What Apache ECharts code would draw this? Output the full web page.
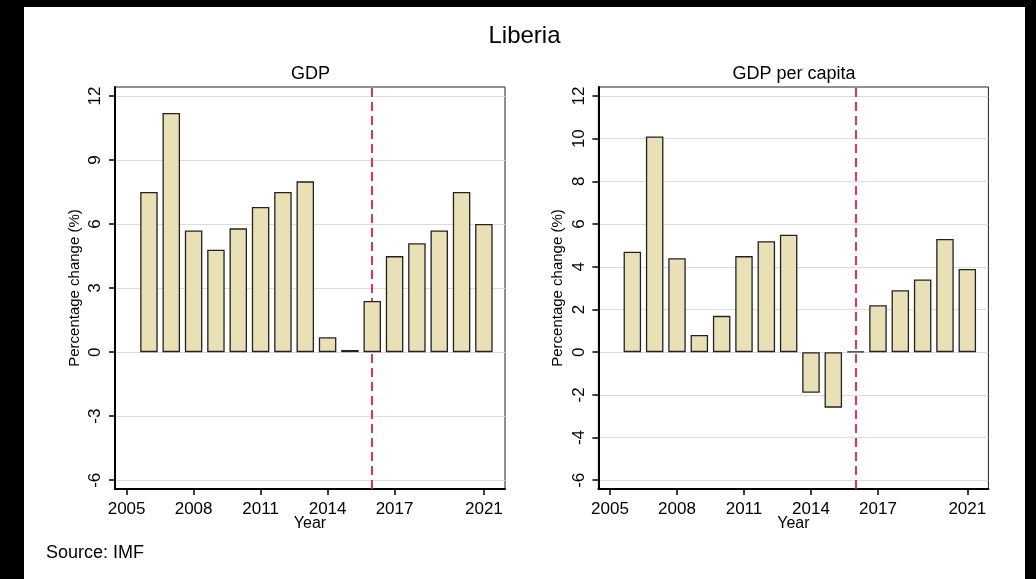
<!DOCTYPE html>
<html>
<head>
<meta charset="utf-8">
<script src="https://cdn.jsdelivr.net/npm/echarts@6/dist/echarts.min.js"></script>
<style>
html,body{margin:0;padding:0;background:#000;width:1036px;height:579px;overflow:hidden;}
#chart{position:absolute;left:24px;top:7px;width:1001px;height:572px;background:#fff;}
</style>
</head>
<body>
<div id="chart"></div>
<script>
// ---- data ----
const years = [2006,2007,2008,2009,2010,2011,2012,2013,2014,2015,2016,2017,2018,2019,2020,2021];
const gdpGrowth = [7.5,11.2,5.7,4.8,5.8,6.8,7.5,8.0,0.7,0.1,2.4,4.5,5.1,5.7,7.5,6.0];
const gdpPcGrowth = [4.7,10.1,4.4,0.8,1.7,4.5,5.2,5.5,-1.9,-2.6,0.03,2.2,2.9,3.4,5.3,3.9];
const xTickYears = [2005,2008,2011,2014,2017,2021];
const gdpYTicks = [-6,-3,0,3,6,9,12];
const gdpPcYTicks = [-6,-4,-2,0,2,4,6,8,10,12];
const projectionStartYear = 2016;
const mainTitle = 'Liberia';
const panelTitles = ['GDP','GDP per capita'];
const sourceText = 'Source: IMF';

const FONT = "'Liberation Sans', Arial, Helvetica, sans-serif";
const chart = echarts.init(document.getElementById('chart'), null, {renderer:'canvas'});

function pairs(vals){ return years.map((y,i)=>[y, vals[i]]); }

function xAxisCfg(idx){
  return {
    type:'value', gridIndex:idx, min:2004.48, max:2021.945,
    name:'Year', nameLocation:'middle', nameGap:26.5, nameMoveOverlap:false,
    nameTextStyle:{fontFamily:FONT, fontSize:16, color:'#000'},
    axisLine:{show:true, onZero:false, lineStyle:{color:'#000', width:2}},
    axisTick:{show:true, length:6, lineStyle:{color:'#000', width:1.5}, customValues:xTickYears},
    axisLabel:{show:true, fontFamily:FONT, fontSize:17, color:'#000', margin:12, customValues:xTickYears,
               formatter:v=>String(v)},
    splitLine:{show:false}
  };
}
function yAxisCfg(idx, ticks){
  return {
    type:'value', gridIndex:idx, min:-6.41, max:12.42,
    name:'Percentage change (%)', nameLocation:'middle', nameGap:33,
    nameTextStyle:{fontFamily:FONT, fontSize:15, color:'#000'},
    axisLine:{show:true, lineStyle:{color:'#000', width:2}},
    axisTick:{show:true, length:6, lineStyle:{color:'#000', width:1.5}, customValues:ticks},
    axisLabel:{show:true, rotate:90, fontFamily:FONT, fontSize:17, color:'#000', margin:11, customValues:ticks,
               formatter:v=>String(v)},
    splitLine:{show:true, lineStyle:{color:'#dcdcdc', width:1}}
  };
}
function barSeries(idx, vals){
  return {
    type:'bar', xAxisIndex:idx, yAxisIndex:idx, data:pairs(vals),
    barWidth:17.5, z:2,
    itemStyle:{color:'#EAE0B6', borderColor:'#222', borderWidth:1.3},
    emphasis:{disabled:true},
    markLine:{
      silent:true, symbol:['none','none'], z:1, animation:false,
      label:{show:false},
      lineStyle:{color:'#DC1E4B', type:[9,5], width:1.8},
      data:[{xAxis:projectionStartYear}]
    }
  };
}

const option = {
  animation:false,
  backgroundColor:'#fff',
  title:[{
    text:mainTitle, left:'center', top:12,
    textStyle:{fontFamily:FONT, fontSize:24, fontWeight:'normal', color:'#000'}
  }],
  grid:[
    {left:91, top:80, width:390, height:402, show:true, borderColor:'#222', borderWidth:1, backgroundColor:'#fff', containLabel:false},
    {left:574.4, top:80, width:390, height:402, show:true, borderColor:'#222', borderWidth:1, backgroundColor:'#fff', containLabel:false}
  ],
  xAxis:[xAxisCfg(0), xAxisCfg(1)],
  yAxis:[yAxisCfg(0, gdpYTicks), yAxisCfg(1, gdpPcYTicks)],
  series:[barSeries(0, gdpGrowth), barSeries(1, gdpPcGrowth)],
  graphic:[
    {type:'text', x:286.5, y:67, style:{text:panelTitles[0], fontFamily:FONT, fontSize:18, fill:'#000', align:'center', verticalAlign:'middle'}},
    {type:'text', x:770, y:67, style:{text:panelTitles[1], fontFamily:FONT, fontSize:18, fill:'#000', align:'center', verticalAlign:'middle'}},
    {type:'text', x:22, y:546, style:{text:sourceText, fontFamily:FONT, fontSize:18, fill:'#000', align:'left', verticalAlign:'middle'}}
  ]
};
chart.setOption(option);
</script>
</body>
</html>
